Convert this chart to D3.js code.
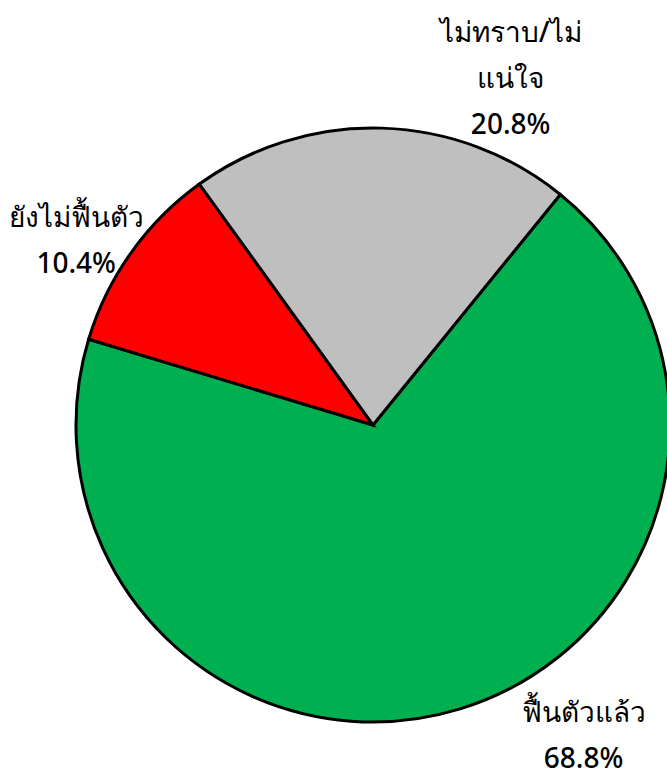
<!DOCTYPE html>
<html>
<head>
<meta charset="utf-8">
<script src="https://cdn.jsdelivr.net/npm/d3@7"></script>
<style>
  html, body { margin: 0; padding: 0; background: #fff; }
  svg text { font-family: "Noto Sans", "DejaVu Sans", sans-serif; fill: #000; }
</style>
</head>
<body>
<svg id="chart" width="667" height="773"></svg>
<script>
// data
var categories = ["ฟื้นตัวแล้ว", "ยังไม่ฟื้นตัว", "ไม่ทราบ/ไม่แน่ใจ"];
var values = [68.8, 10.4, 20.8];
var colors = ["#00b050", "#ff0000", "#bfbfbf"];
// how each category label is wrapped
var labelLines = [["ฟื้นตัวแล้ว"], ["ยังไม่ฟื้นตัว"], ["ไม่ทราบ/ไม่", "แน่ใจ"]];

var svg = d3.select("#chart");
var cx = 373, cy = 425, radius = 297;

var data = categories.map(function(c, i) {
  return { name: c, value: values[i], color: colors[i], lines: labelLines[i] };
});

var start = 39.1 * Math.PI / 180;
var pie = d3.pie()
  .sort(null)
  .value(function(d) { return d.value; })
  .startAngle(start)
  .endAngle(start + 2 * Math.PI);

var arc = d3.arc().innerRadius(0).outerRadius(radius);

var g = svg.append("g")
  .attr("transform", "translate(" + cx + "," + cy + ")");

var arcs = pie(data);

g.selectAll("path")
  .data(arcs)
  .enter().append("path")
  .attr("d", arc)
  .attr("fill", function(d) { return d.data.color; })
  .attr("stroke", "#000")
  .attr("stroke-width", 3)
  .attr("stroke-linejoin", "miter");

// labels: start from a point outside the slice, then nudge like Excel does
var labelArc = d3.arc().innerRadius(radius * 1.12).outerRadius(radius * 1.12);
var nudges = [[113, -6], [-26, 11], [128, -12]];
var lineH = 46;

var labels = g.selectAll("g.label")
  .data(arcs)
  .enter().append("g")
  .attr("class", "label")
  .attr("transform", function(d, i) {
    var c = labelArc.centroid(d);
    return "translate(" + (c[0] + nudges[i][0]) + "," + (c[1] + nudges[i][1]) + ")";
  });

labels.each(function(d) {
  var el = d3.select(this);
  var lines = d.data.lines.concat([d3.format(".1f")(d.data.value) + "%"]);
  var top = -(lines.length - 1) * lineH / 2;
  lines.forEach(function(t, k) {
    el.append("text")
      .attr("text-anchor", "middle")
      .attr("dominant-baseline", "middle")
      .attr("y", top + k * lineH)
      .style("font-size", "28px")
      .style("font-weight", "500")
      .text(t);
  });
});
</script>
</body>
</html>
